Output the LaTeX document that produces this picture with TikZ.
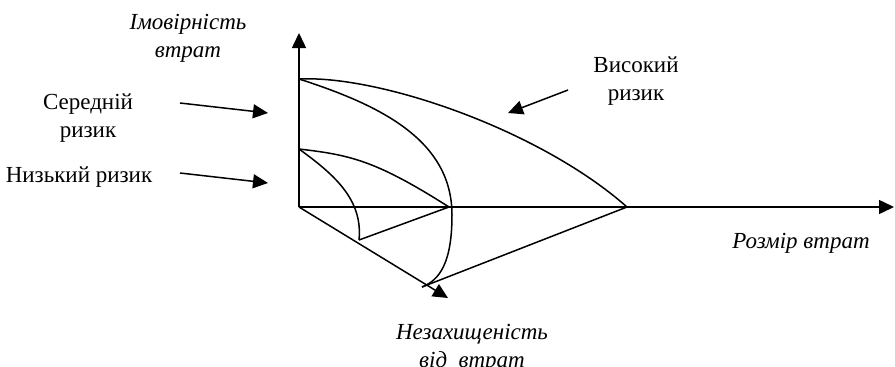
\documentclass[tikz,border=0pt]{standalone}
\usepackage{fontspec}
\setmainfont{Liberation Serif}
\usetikzlibrary{arrows.meta}
\begin{document}
\begin{tikzpicture}[x=1pt,y=-1pt,
  curve/.style={line width=1.5pt, line join=round},
  pointer/.style={line width=1.5pt,-{Triangle[length=15pt,width=14pt]}},
  lbl/.style={font=\fontsize{23}{28}\selectfont, align=center, anchor=base, inner sep=0pt},
  ilbl/.style={lbl, font=\fontsize{23}{28}\selectfont\itshape}]
\useasboundingbox (0,0) rectangle (895,367);
% key points
\coordinate (O) at (299,207);
\coordinate (A) at (299,79);
\coordinate (B) at (299,149);
\coordinate (P1) at (449,207);
\coordinate (P2) at (627,207);
\coordinate (Q) at (359,240);
\coordinate (R) at (422,287);
\coordinate (Ytip) at (299,33);
\coordinate (Xtip) at (894,207);
\coordinate (Dtip) at (448,298);
% axes
\draw[pointer] (O) -- (Ytip);
\draw[pointer] (O) -- (Xtip);
\draw[pointer] (O) -- (Dtip);
% high risk
\draw[curve] (A) .. controls (380,75) and (540,130) .. (P2);
\draw[curve] (P2) -- (R);
% medium risk
\draw[curve] (A) .. controls (380,105) and (452,140) .. (452,215)
  .. controls (452,262) and (440,280) .. (R);
% low risk
\draw[curve] (B) .. controls (350,155) and (375,160) .. (P1);
\draw[curve] (B) .. controls (335,175) and (363,200) .. (Q);
\draw[curve] (Q) -- (P1);
% labels (base anchor = baseline of last line)
\node[ilbl] (prob) at (188,57) {Імовірність\\втрат};
\node[ilbl] (size) at (801,248) {Розмір втрат};
\node[ilbl] (expo) at (472,367) {Незахищеність\\від\ \ втрат};
\node[lbl] (mid) at (88,137) {Середній\\ризик};
\node[lbl] (low) at (79,182) {Низький ризик};
\node[lbl] (high) at (636,100) {Високий\\ризик};
% pointers
\coordinate (m1) at (180,103); \coordinate (m2) at (268,113);
\coordinate (l1) at (180,173); \coordinate (l2) at (268,183);
\coordinate (h1) at (568,90);  \coordinate (h2) at (508,113);
\draw[pointer] (m1) -- (m2);
\draw[pointer] (l1) -- (l2);
\draw[pointer] (h1) -- (h2);
\end{tikzpicture}
\end{document}
